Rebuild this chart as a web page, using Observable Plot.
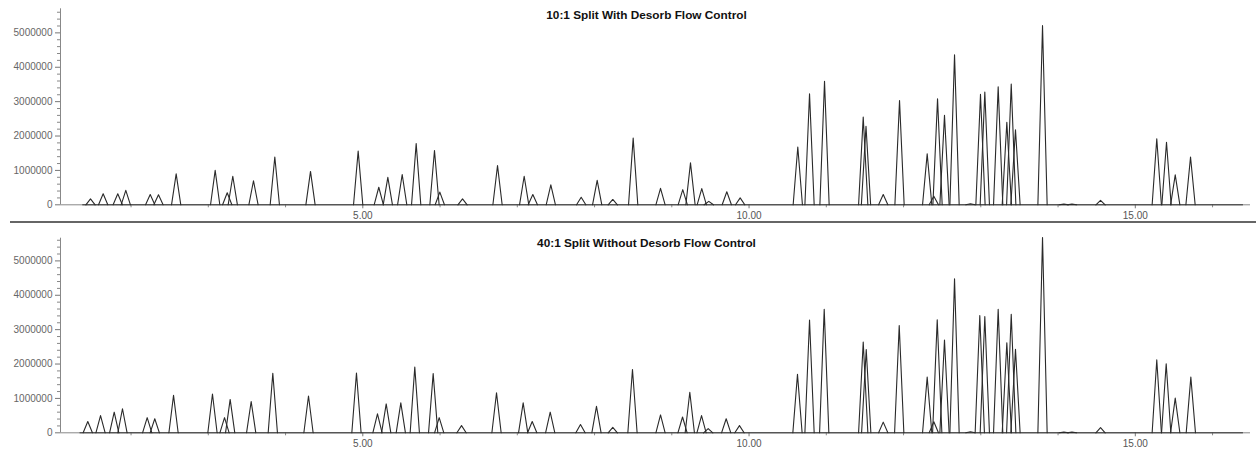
<!DOCTYPE html>
<html><head><meta charset="utf-8">
<script src="https://cdn.jsdelivr.net/npm/d3@7"></script>
<script src="https://cdn.jsdelivr.net/npm/@observablehq/plot@0.6"></script>
<style>
body{margin:0;background:#fff;}
#wrap{position:relative;width:1256px;height:455px;overflow:hidden;font-family:"Liberation Sans",Arial,sans-serif;}
#wrap svg{display:block;}
#sep{position:absolute;left:10px;top:221px;width:1246px;height:0;border-top:2px solid #666;}
</style></head><body><div id="wrap"><div id="sep"></div></div>
<script>
const panelTitles = ["10:1 Split With Desorb Flow Control", "40:1 Split Without Desorb Flow Control"];
const xMajorTicks = [5, 10, 15];
const xMinorTicks = [2, 3, 4, 6, 7, 8, 9, 11, 12, 13, 14, 16];
const yMajorTicks = [0, 1000000, 2000000, 3000000, 4000000, 5000000];

// Peak retention times (min) and heights (counts), top panel
const topTimes = [1.475, 1.639, 1.828, 1.932, 2.248, 2.355, 2.584, 3.089, 3.245, 3.317, 3.585, 3.861, 4.323,
  4.940, 5.207, 5.324, 5.510, 5.691, 5.928, 5.997, 6.291, 6.744, 7.089, 7.201, 7.434, 7.827, 8.034, 8.236,
  8.500, 8.854, 9.142, 9.242, 9.388, 9.479, 9.712, 9.885, 10.631, 10.783, 10.977, 11.478, 11.514, 11.737,
  11.948, 12.306, 12.392, 12.440, 12.530, 12.660, 12.866, 12.996, 13.052, 13.225, 13.337, 13.394, 13.449,
  13.799, 14.075, 14.180, 14.550, 15.278, 15.404, 15.517, 15.715];
const topHeights = [170000, 320000, 320000, 420000, 300000, 290000, 900000, 1000000, 350000, 830000, 700000, 1390000, 970000,
  1560000, 510000, 800000, 880000, 1780000, 1580000, 370000, 170000, 1140000, 830000, 300000, 580000, 220000, 710000, 155000,
  1940000, 480000, 440000, 1220000, 470000, 100000, 380000, 200000, 1680000, 3230000, 3590000, 2550000, 2280000, 300000,
  3030000, 1480000, 250000, 3080000, 2600000, 4360000, 30000, 3210000, 3280000, 3430000, 2400000, 3510000, 2180000,
  5210000, 20000, 20000, 130000, 1920000, 1820000, 870000, 1390000];

// Bottom panel
const botTimes = [1.440, 1.605, 1.782, 1.889, 2.209, 2.307, 2.550, 3.054, 3.210, 3.283, 3.555, 3.835, 4.297,
  4.918, 5.190, 5.303, 5.492, 5.673, 5.911, 5.989, 6.278, 6.731, 7.076, 7.193, 7.426, 7.818, 8.025, 8.236,
  8.491, 8.854, 9.139, 9.233, 9.385, 9.471, 9.704, 9.876, 10.627, 10.783, 10.973, 11.478, 11.517, 11.737,
  11.944, 12.306, 12.392, 12.436, 12.530, 12.660, 12.866, 12.987, 13.052, 13.225, 13.337, 13.394, 13.449,
  13.799, 14.075, 14.180, 14.550, 15.278, 15.400, 15.517, 15.719];
const botHeights = [330000, 500000, 600000, 700000, 440000, 410000, 1090000, 1130000, 440000, 970000, 910000, 1730000, 1070000,
  1740000, 550000, 840000, 870000, 1910000, 1720000, 440000, 210000, 1160000, 870000, 330000, 600000, 240000, 770000, 160000,
  1840000, 520000, 460000, 1180000, 500000, 120000, 410000, 210000, 1700000, 3280000, 3590000, 2640000, 2420000, 310000,
  3120000, 1620000, 320000, 3290000, 2700000, 4480000, 30000, 3410000, 3380000, 3590000, 2620000, 3450000, 2430000,
  5680000, 20000, 20000, 150000, 2120000, 2010000, 1010000, 1620000];

const xDomain = [1.0867, 16.4913];
const halfWidth = 0.06;
const font = '"Liberation Sans", Arial, sans-serif';

function peakRows(times, heights) {
  return times.flatMap((t, i) => [
    {t: t - halfWidth, v: 0, id: i},
    {t: t, v: heights[i], id: i},
    {t: t + halfWidth, v: 0, id: i}
  ]);
}

function panel(title, times, heights, cfg) {
  const yMinor = d3.range(0, cfg.yTop, 200000).filter(v => v % 1000000 !== 0);
  return Plot.plot({
    width: 1256,
    height: cfg.height,
    marginLeft: 60,
    marginRight: 6,
    marginTop: cfg.mt,
    marginBottom: cfg.mb,
    style: {fontFamily: font, fontSize: "10px", color: "#555", background: "#fff"},
    x: {domain: xDomain, axis: null},
    y: {domain: [0, cfg.yTop], axis: null},
    marks: [
      Plot.ruleY([0], {stroke: "#888", strokeWidth: 1}),
      Plot.ruleX([xDomain[0]], {y1: 0, y2: cfg.yTop, stroke: "#888", strokeWidth: 1}),
      Plot.axisY({ticks: yMajorTicks, tickSize: 5, tickPadding: 3, tickFormat: d => String(d), label: null, stroke: "#777", fill: "#666"}),
      Plot.axisY({ticks: yMinor, tickSize: 3, text: null, label: null, stroke: "#888"}),
      Plot.axisX({ticks: xMajorTicks, tickSize: 4, tickPadding: 3, tickFormat: d3.format(".2f"), label: null, stroke: "#777", fill: "#555"}),
      Plot.axisX({ticks: xMinorTicks, tickSize: 3, text: null, label: null, stroke: "#888"}),
      Plot.ruleY([0], {x1: times[0] - 0.1, x2: 16.4, stroke: "#333", strokeWidth: 1}),
      Plot.line(peakRows(times, heights), {x: "t", y: "v", z: "id", stroke: "#2a2a2a", strokeWidth: 1.1}),
      Plot.text([title], {text: d => d, frameAnchor: "top", lineAnchor: "middle", dx: -9, dy: cfg.titleDy,
        fontWeight: "bold", fontSize: 11.8, fill: "#111"})
    ]
  });
}

const wrap = document.getElementById("wrap");
wrap.appendChild(panel(panelTitles[0], topTimes, topHeights, {height: 226, mt: 8.3, mb: 21.7, yTop: 5700000, titleDy: 6}));
wrap.appendChild(panel(panelTitles[1], botTimes, botHeights, {height: 229, mt: 11.7, mb: 22.7, yTop: 5660000, titleDy: 4.6}));
</script></body></html>
